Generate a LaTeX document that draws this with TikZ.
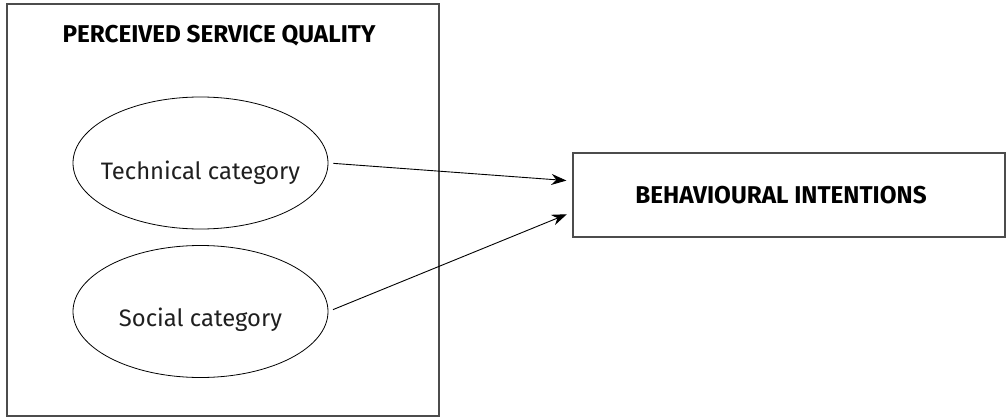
\documentclass[tikz,border=0pt]{standalone}
\usepackage{fontspec}
\setmainfont{Fira Sans}
\usetikzlibrary{shapes.geometric,arrows.meta,calc}
\begin{document}
\begin{tikzpicture}[x=1pt,y=-1pt,
  frame/.style={draw=black!70,line width=1.2pt,inner sep=0pt},
  oval/.style={ellipse,draw=black,line width=0.8pt,minimum width=255pt,minimum height=132pt,inner sep=0pt},
  ovaltext/.style={font=\fontsize{23.8}{26}\selectfont,text=black!88},
  title/.style={font=\fontsize{24.3}{28}\selectfont\bfseries},
  link/.style={draw=black,line width=0.9pt,-{Stealth[length=15pt,width=11pt]},shorten <=5pt,shorten >=6pt}]
\useasboundingbox (0,0) rectangle (1006,417);
\node[frame,minimum width=432pt,minimum height=412pt] (psq) at (223,210) {};
\node[title] (psqt) at (219,36) {PERCEIVED SERVICE QUALITY};
\node[oval] (tech) at (200.5,163) {};
\node[ovaltext] (techt) at (200.5,173) {Technical category};
\node[oval] (soc) at (200.5,311.5) {};
\node[ovaltext] (soct) at (200.5,320) {Social category};
\node[frame,minimum width=432pt,minimum height=84pt] (bi) at (789,195) {};
\node[title] (bit) at (781,195) {BEHAVIOURAL INTENTIONS};
\draw[link] (tech.east) -- ($(bi.west)+(0,-14)$);
\draw[link] (soc.east) -- ($(bi.west)+(0,17)$);
\end{tikzpicture}
\end{document}
